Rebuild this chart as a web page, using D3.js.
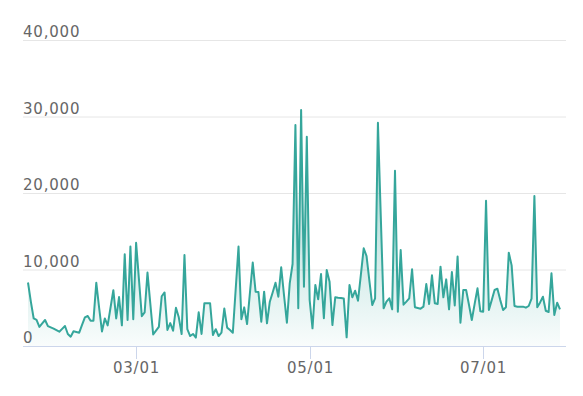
<!DOCTYPE html>
<html>
<head>
<meta charset="utf-8">
<script src="https://cdn.jsdelivr.net/npm/d3@7"></script>
<style>
  body { margin: 0; background: #fff; }
  svg { display: block; }
  text { font-family: "DejaVu Sans", sans-serif; }
</style>
</head>
<body>
<svg id="chart" width="583" height="396"></svg>
<script>

// daily values, first day below
var startDay = "2023-01-22"
var values = [
  8300, 5800, 3600, 3400, 2500, 2950, 3400, 2600, 2430, 2260,
  2060, 1870, 2240, 2610, 1570, 1220, 1920, 1830, 1740, 2750,
  3750, 3920, 3310, 3310, 8270, 5000, 1900, 3600, 2700, 5000,
  7300, 3600, 6400, 2700, 12000, 3400, 13000, 3500, 13500, 8700,
  3900, 4400, 9600, 5500, 1500, 2000, 2500, 6500, 7000, 2100,
  3000, 2000, 5000, 3750, 1570, 11900, 2200, 1300, 1570, 1100,
  4400, 1570, 5600, 5600, 5600, 1440, 2200, 1300, 1740, 4900,
  2400, 2100, 1740, 7400, 13000, 3500, 5050, 2870, 6900, 10900,
  7100, 7060, 3180, 7100, 2960, 5790, 7000, 8280, 6440, 10280,
  6600, 3050, 8190, 10720, 28880, 4930, 30840, 7760, 27360, 6010,
  2310, 7970, 6100, 9410, 3620, 9930, 8410, 2740, 6360, 6300,
  6270, 6200, 1130, 7970, 6360, 7230, 5920, 9300, 12770, 11760,
  8500, 5360, 6230, 29190, 17000, 4930, 5790, 6230, 4790, 22910,
  4480, 12550, 5400, 5800, 6230, 10020, 5060, 4970, 4880, 5140,
  8100, 5490, 9240, 5580, 5490, 10370, 6360, 8710, 4790, 9670,
  5310, 11700, 3050, 7320, 7320, 5400, 3400, 5500, 7540, 4530,
  4480, 18990, 4700, 6000, 7320, 7490, 6000, 4700, 5060, 12200,
  10540, 5230, 5140, 5140, 5140, 5010, 5230, 6180, 19600, 5060,
  5700, 6440, 4610, 4440, 9500, 4050, 5660, 4790
]
var yTicks = [0, 10000, 20000, 30000, 40000]
var xTicks = ["2023-03-01", "2023-05-01", "2023-07-01"]

var parse = d3.timeParse("%Y-%m-%d")
var day0 = parse(startDay)
var data = values.map((v, i) => ({date: d3.timeDay.offset(day0, i), value: v}))

var svg = d3.select("#chart")
var plotLeft = 23, plotRight = 566, plotTop = 40, plotBottom = 346

var x = d3.scaleTime()
  .domain(d3.extent(data, d => d.date))
  .range([28, 560])
var y = d3.scaleLinear()
  .domain([0, 40000])
  .range([plotBottom, plotTop])

var color = "#35a69b"

var grad = svg.append("defs").append("linearGradient")
  .attr("id", "fade")
  .attr("gradientUnits", "userSpaceOnUse")
  .attr("x1", 0).attr("x2", 0)
  .attr("y1", y(31000)).attr("y2", y(0))
grad.append("stop").attr("offset", 0).attr("stop-color", color).attr("stop-opacity", 0.55)
grad.append("stop").attr("offset", 1).attr("stop-color", color).attr("stop-opacity", 0.03)

// grid + y labels
svg.append("g").selectAll("line")
  .data(yTicks.filter(d => d > 0))
  .join("line")
  .attr("x1", plotLeft).attr("x2", plotRight)
  .attr("y1", d => y(d) + 0.5).attr("y2", d => y(d) + 0.5)
  .attr("stroke", "#e6e6e6")

svg.append("g").selectAll("text")
  .data(yTicks)
  .join("text")
  .attr("x", plotLeft)
  .attr("y", d => y(d) - 3)
  .attr("fill", "#666")
  .attr("font-size", "15px")
  .attr("letter-spacing", "0.8px")
  .text(d => d3.format(",")(d))

// area + line
svg.append("path")
  .datum(data)
  .attr("fill", "url(#fade)")
  .attr("d", d3.area().x(d => x(d.date)).y0(y(0)).y1(d => y(d.value)))

svg.append("path")
  .datum(data)
  .attr("fill", "none")
  .attr("stroke", color)
  .attr("stroke-width", 2)
  .attr("stroke-linejoin", "round")
  .attr("d", d3.line().x(d => x(d.date)).y(d => y(d.value)))

// x axis
svg.append("line")
  .attr("x1", plotLeft).attr("x2", plotRight)
  .attr("y1", plotBottom + 0.5).attr("y2", plotBottom + 0.5)
  .attr("stroke", "#ccd6eb")

var xt = svg.append("g").selectAll("g")
  .data(xTicks.map(parse))
  .join("g")
  .attr("transform", d => "translate(" + (Math.round(x(d)) + 0.5) + ",0)")
xt.append("line")
  .attr("y1", plotBottom).attr("y2", plotBottom + 13)
  .attr("stroke", "#ccd6eb")
xt.append("text")
  .attr("y", 373)
  .attr("text-anchor", "middle")
  .attr("fill", "#666")
  .attr("font-size", "15px")
  .attr("letter-spacing", "0.8px")
  .text(d => d3.timeFormat("%m/%d")(d))

</script>
</body>
</html>
